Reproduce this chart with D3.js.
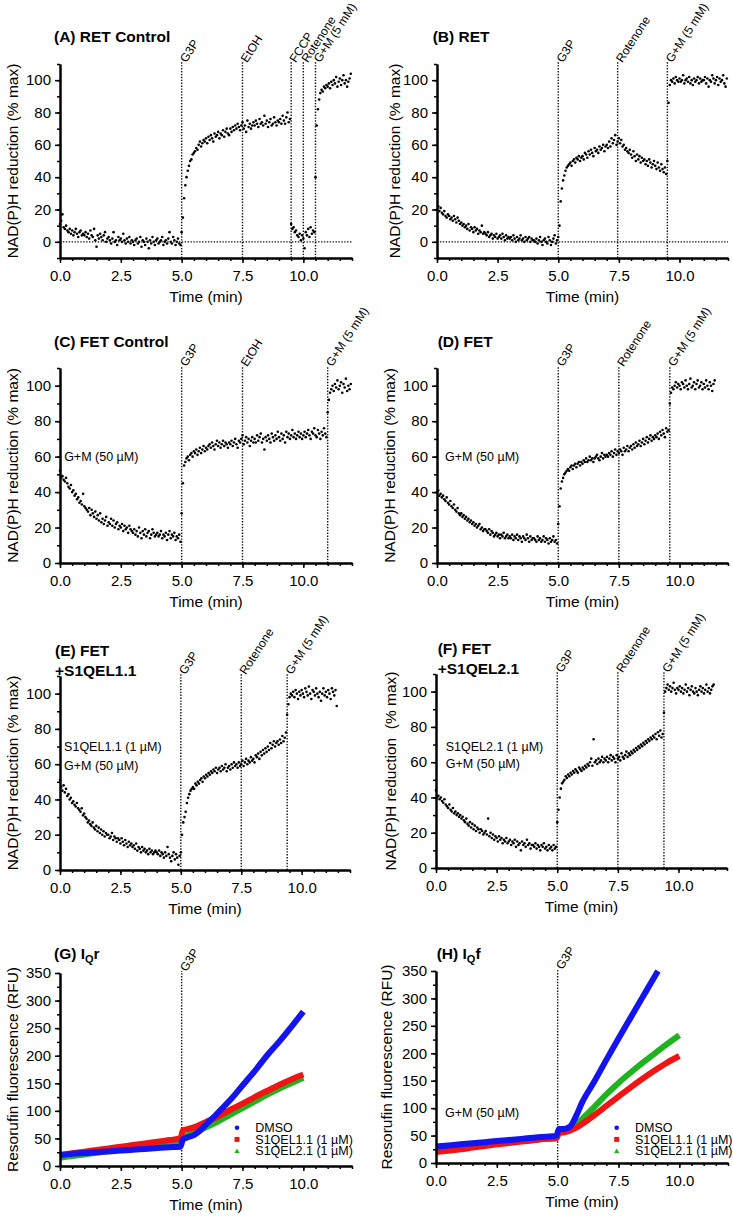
<!DOCTYPE html>
<html><head><meta charset="utf-8">
<script src="https://cdn.jsdelivr.net/npm/d3@7"></script>
<style>
body{margin:0;background:#fff}
svg{display:block}
text{font-family:"Liberation Sans",Arial,Helvetica,sans-serif;fill:#000}
</style>
</head><body>
<svg id="c" width="733" height="1221"></svg>
<script>
// ---------- DATA ----------
const STEP = 0.05; // sampling interval of NAD(P)H traces (min), first point at t = 0
const xMajorTicks = [0, 2.5, 5, 7.5, 10];

// (A) RET Control, NAD(P)H % max
const retControl = [
 11,13,17,9,8,10,7,6,8,5,7,4,6,8,5,3,6,7,4,5,
 4,6,3,5,2,7,4,3,8,1,-3,4,2,5,3,1,4,6,0,2,
 3,1,-1,2,6,0,1,-2,3,1,2,0,5,1,-1,2,0,3,-1,1,
 0,-2,1,2,-1,0,3,-3,1,0,-2,2,0,-4,1,-1,3,0,-2,1,
 2,-1,0,1,3,-2,0,1,-1,2,6,0,-1,3,1,-2,0,2,-1,-2,
 6,15,27,35,40,44,47,50,51,54,55,56,58,57,60,62,59,61,63,62,
 64,61,65,63,66,64,62,67,65,66,68,64,67,66,69,65,68,70,67,66,
 70,68,71,69,72,70,73,71,69,72,74,70,72,68,75,71,73,70,72,74,
 72,75,73,71,76,73,74,72,78,73,75,71,74,76,72,73,77,74,72,75,
 74,76,73,78,75,73,77,80,74,76,
 11,8,9,6,7,4,3,5,1,4,
 2,-4,6,4,8,3,9,5,7,6,
 40,72,82,88,92,94,93,96,95,97,
 96,98,95,99,97,100,98,102,96,99,101,97,100,103,98,100,96,99,101,104
];
// (B) RET
const ret = [
 20,22,19,21,18,17,19,16,15,17,16,14,15,13,16,14,12,15,13,11,
 12,10,11,9,10,8,11,7,9,8,6,9,7,8,5,7,6,10,5,6,
 5,4,6,3,4,5,2,4,3,5,2,3,4,2,5,3,1,4,2,3,
 2,3,1,4,2,0,3,1,2,4,1,2,0,3,1,2,3,0,2,1,
 1,0,2,-1,1,3,0,-2,1,2,0,-1,3,1,-2,0,2,4,-1,1,
 3,10,25,33,38,41,44,46,47,48,49,47,50,51,49,52,51,53,50,52,
 53,51,55,54,52,56,54,57,55,53,58,56,57,55,59,57,58,60,56,59,
 60,58,62,59,64,61,63,66,60,62,
 64,61,63,59,60,57,58,56,55,57,
 54,52,56,53,50,54,51,53,49,52,50,51,48,50,47,51,49,46,48,50,
 47,45,49,46,44,48,45,43,46,42,
 50,86,97,100,99,101,98,102,100,99,
 101,99,100,103,98,100,101,99,102,98,100,97,101,99,100,102,98,101,99,100,
 100,102,98,101,96,100,99,103,101,98,100,102,97,101,99,100,103,98,96,101
];
// (C) FET Control
const fetControl = [
 52,48,49,47,46,48,45,43,42,44,40,41,38,39,36,37,34,35,33,39,
 32,31,30,29,31,27,30,28,26,29,25,27,24,28,23,25,22,24,26,21,
 23,22,25,21,24,20,22,23,19,21,20,22,18,21,19,20,17,21,19,18,
 17,19,16,18,15,20,17,14,18,16,19,15,17,18,14,16,19,17,15,16,
 17,15,16,18,14,16,15,17,13,16,18,14,16,15,17,13,15,14,16,12,
 28,45,55,57,59,60,58,61,62,60,63,62,64,61,63,65,62,64,66,63,
 65,64,66,67,65,68,66,64,67,69,66,68,65,67,69,66,68,67,65,68,
 67,69,66,68,70,67,65,69,68,70,72,67,69,71,68,70,66,69,71,68,
 70,68,72,69,71,73,68,70,64,71,69,72,70,68,73,71,69,72,70,74,
 71,69,73,70,72,68,74,71,73,70,72,75,71,73,70,72,74,71,73,70,
 72,74,71,73,75,72,70,74,73,76,72,71,75,73,70,74,72,76,73,71,
 85,92,96,98,100,97,101,99,103,98,100,102,96,101,99,104,97,100,98,101
];
// (D) FET
const fet = [
 40,41,38,39,37,38,36,35,37,34,33,35,32,31,33,30,29,31,28,27,
 28,26,27,25,26,24,25,23,24,22,23,21,22,20,21,22,19,20,18,19,
 19,18,17,19,16,18,17,15,16,17,15,16,14,16,15,17,14,15,16,14,
 15,14,16,13,15,14,16,13,15,14,12,15,14,13,16,14,12,15,13,14,
 14,13,12,15,13,14,12,13,15,12,14,13,11,14,12,13,15,12,13,11,
 22,32,42,46,48,50,51,52,53,52,54,55,53,55,56,54,56,57,55,57,
 56,58,57,59,57,58,60,58,59,57,59,60,61,59,58,60,62,59,61,60,
 61,60,62,61,63,60,62,64,61,63,62,64,63,61,65,63,64,66,63,65,
 66,64,67,65,68,66,67,69,66,68,70,67,69,71,68,70,72,69,71,70,
 72,71,73,70,74,72,75,73,71,76,74,75,
 90,96,99,98,100,102,99,101,
 100,98,102,101,99,103,100,98,101,104,99,100,102,98,101,103,99,100,102,98,
 101,99,103,100,98,102,100,97,101,103
];
// (E) FET + S1QEL1.1
const fetS1qel11 = [
 51,47,45,48,44,46,42,43,40,41,38,39,37,36,38,35,34,33,35,31,
 32,30,29,27,28,26,25,27,24,23,25,22,24,21,23,20,22,19,21,20,
 20,18,19,21,17,19,18,16,18,17,15,18,16,14,17,15,13,16,14,15,
 13,14,12,15,11,13,12,10,13,11,12,10,11,9,12,10,11,9,10,11,
 10,9,11,8,10,9,7,10,8,13,9,7,5,8,10,6,9,7,3,8,
 10,20,27,30,33,38,41,43,45,46,47,46,49,48,50,49,51,52,50,53,
 52,54,53,55,54,56,55,57,56,58,55,57,58,56,59,57,58,60,56,58,
 59,57,60,58,61,59,60,58,61,59,60,62,59,61,63,60,62,61,64,62,
 63,61,65,64,66,63,67,65,68,66,69,67,70,68,72,69,71,73,70,72,
 73,71,74,72,76,73,75,78,
 88,94,98,100,99,101,98,102,100,97,101,99,
 102,100,98,103,101,99,104,100,97,102,101,99,103,100,98,101,96,100,103,99,
 101,98,102,100,97,103,101,99,102,93
];
// (F) FET + S1QEL2.1
const fetS1qel21 = [
 44,40,41,39,40,38,37,39,36,35,34,36,33,32,34,31,32,30,31,29,
 30,28,29,27,26,28,25,24,26,23,25,22,24,21,23,22,20,22,21,19,
 20,21,19,28,18,20,17,19,16,18,17,15,18,16,17,14,16,15,17,14,
 15,16,13,15,14,16,12,15,13,14,10,15,13,14,12,16,13,14,11,13,
 13,12,14,11,13,12,10,13,12,14,11,12,10,13,11,12,10,13,11,12,
 26,33,40,45,48,49,50,52,51,53,52,54,53,55,54,56,55,54,57,56,
 55,57,56,58,57,59,58,60,62,58,73,60,61,59,62,60,61,63,60,62,
 61,63,60,62,64,61,63,62,60,64,62,63,61,65,63,62,64,66,63,65,
 64,66,65,67,66,68,67,69,68,70,69,71,70,72,71,73,72,74,73,75,
 74,76,73,77,75,78,74,76,
 88,100,102,104,101,103,100,102,105,101,99,102,
 101,103,100,102,99,101,104,100,102,98,101,103,100,99,102,100,98,101,103,100,
 102,99,101,104,100,102,99,101,103,104
];

// (G) IQr resorufin traces (RFU)
const gTimes     = [0,0.5,1,1.5,2,2.5,3,3.5,4,4.5,4.95,5.05,5.25,5.5,5.75,6,6.5,7,7.5,8,8.5,9,9.5,10];
const gDmso      = [20,22,23.5,25,26.5,28,29.5,31,32.5,34,35,48,52,56,64,75,97,120,146,172,200,225,252,280];
const gS1qel11   = [20,23,26,29,32,35,38,41,44,47,50,65,67,70,75,80,90,102,113,125,136,147,157,166];
const gS1qel21   = [15,18,21,24,27,30,32.5,35,37.5,40,42,53,56,60,65,70,81,93,105,117,129,140,150,160];
// (H) IQf resorufin traces (RFU)
const hTimesDmso = [0,0.5,1,1.5,2,2.5,3,3.5,4,4.5,4.95,5.05,5.25,5.5,5.75,6,6.5,7,7.5,8,8.5,9,9.12];
const hDmso      = [30,32,34,36,38,40,42,44,46,48,50,62,62,66,85,110,148,188,227,265,303,341,350];
const hTimes     = [0,0.5,1,1.5,2,2.5,3,3.5,4,4.5,4.95,5.05,5.25,5.5,5.75,6,6.5,7,7.5,8,8.5,9,9.5,10];
const hS1qel11   = [20,22.5,25,28,31,34,36.5,39,41.5,44,45,54,56,59,64,71,87,104,121,138,154,169,183,195];
const hS1qel21   = [25,27.5,30,32,34,36,38,40,42,44,46,57,58,63,70,80,102,125,146,165,183,200,217,233];

const seriesNames = ["DMSO", "S1QEL1.1 (1 \u00b5M)", "S1QEL2.1 (1 \u00b5M)"];

// ---------- LAYOUT / CONFIG ----------
const NADLABEL = "NAD(P)H reduction (% max)";
const RFULABEL = "Resorufin fluorescence (RFU)";
const panels = [
 {title:["(A) RET Control"], tx:54, ty:41.5, x0:60, x1:352, yTop:64, yBot:258, yDom:[-10,110], yMajor:[0,20,40,60,80,100], yMinorStep:10,
  ylab:NADLABEL, labX:13, pts:retControl, zero:true,
  events:[[5,"G3P"],[7.5,"EtOH"],[9.5,"FCCP"],[10,"Rotenone"],[10.5,"G+M (5 mM)"]], notes:[]},
 {title:["(B) RET"], tx:432.7, ty:41.5, x0:437, x1:728, yTop:64, yBot:258, yDom:[-10,110], yMajor:[0,20,40,60,80,100], yMinorStep:10,
  ylab:NADLABEL, labX:395, pts:ret, zero:true,
  events:[[5,"G3P"],[7.45,"Rotenone"],[9.5,"G+M (5 mM)"]], notes:[]},
 {title:["(C) FET Control"], tx:54, ty:347, x0:60, x1:352, yTop:368, yBot:563, yDom:[0,110], yMajor:[0,20,40,60,80,100], yMinorStep:10,
  ylab:NADLABEL, labX:13, pts:fetControl,
  events:[[5,"G3P"],[7.5,"EtOH"],[11,"G+M (5 mM)"]], notes:[["G+M (50 \u00b5M)",0.17,60]]},
 {title:["(D) FET"], tx:437.7, ty:347, x0:437, x1:728, yTop:368, yBot:563, yDom:[0,110], yMajor:[0,20,40,60,80,100], yMinorStep:10,
  ylab:NADLABEL, labX:390, pts:fet,
  events:[[5,"G3P"],[7.5,"Rotenone"],[9.6,"G+M (5 mM)"]], notes:[["G+M (50 \u00b5M)",0.33,60]]},
 {title:["(E) FET","+S1QEL1.1"], tx:55, ty:655.5, x0:60, x1:350, yTop:676, yBot:870, yDom:[0,110], yMajor:[0,20,40,60,80,100], yMinorStep:10,
  ylab:NADLABEL, labX:13, pts:fetS1qel11,
  events:[[5,"G3P"],[7.5,"Rotenone"],[9.4,"G+M (5 mM)"]], notes:[["S1QEL1.1 (1 \u00b5M)",0.17,70],["G+M (50 \u00b5M)",0.17,59]]},
 {title:["(F) FET","+S1QEL2.1"], tx:437.7, ty:653.5, x0:436, x1:727, yTop:674, yBot:868, yDom:[0,110], yMajor:[0,20,40,60,80,100], yMinorStep:10,
  ylab:"NAD(P)H reduction\u00a0 (% max)", labX:391, pts:fetS1qel21,
  events:[[5,"G3P"],[7.5,"Rotenone"],[9.4,"G+M (5 mM)"]], notes:[["S1QEL2.1 (1 \u00b5M)",0.4,69],["G+M (50 \u00b5M)",0.4,59]]},
 {title:["(G) I","Q","r"], sub:true, tx:54, ty:958.5, x0:60, x1:352, yTop:973, yBot:1166, yDom:[0,350], yMajor:[0,50,100,150,200,250,300,350], yMinorStep:25,
  ylab:RFULABEL, labX:13, lines:[[gTimes,gS1qel21,"#1fb41f"],[gTimes,gS1qel11,"#f01414"],[gTimes,gDmso,"#1414f0"]],
  events:[[5,"G3P"]], notes:[], legendX:237},
 {title:["(H) I","Q","f"], sub:true, tx:436.7, ty:958.5, x0:436, x1:728, yTop:971, yBot:1163, yDom:[0,350], yMajor:[0,50,100,150,200,250,300,350], yMinorStep:25,
  ylab:RFULABEL, labX:387, lines:[[hTimes,hS1qel21,"#1fb41f"],[hTimes,hS1qel11,"#f01414"],[hTimesDmso,hDmso,"#1414f0"]],
  events:[[5,"G3P"]], notes:[["G+M (50 \u00b5M)",0.37,91]], legendX:616.7}
];
const legendColors = ["#1414f0","#f01414","#1fb41f"];

// ---------- DRAW ----------
const svg = d3.select("#c");

function drawPanel(p){
  const g = svg.append("g");
  const x = d3.scaleLinear().domain([0,12]).range([p.x0, p.x1]);
  const y = d3.scaleLinear().domain(p.yDom).range([p.yBot, p.yTop]);

  // zero line
  if (p.zero){
    g.append("line").attr("x1",p.x0).attr("x2",p.x1).attr("y1",y(0)).attr("y2",y(0))
      .attr("stroke","#111").attr("stroke-width",1.4).attr("stroke-dasharray","1.4,1.5");
  }
  // event lines + labels
  p.events.forEach(([t,lab])=>{
    g.append("line").attr("x1",x(t)).attr("x2",x(t)).attr("y1",p.yBot).attr("y2",p.yTop-2)
      .attr("stroke","#111").attr("stroke-width",1.4).attr("stroke-dasharray","1.4,1.5");
    g.append("text").attr("transform",`translate(${x(t)+1},${p.yTop-3}) rotate(-57)`)
      .attr("dy","0.35em").attr("font-size",12).text(lab);
  });
  // scatter points
  if (p.pts){
    g.append("g").selectAll("circle").data(p.pts).join("circle")
      .attr("cx",(d,i)=>x(i*STEP)).attr("cy",d=>y(d)).attr("r",1.3).attr("fill","#000");
  }
  // thick marker traces
  if (p.lines){
    const line = d3.line().x(d=>x(d[0])).y(d=>y(d[1])).curve(d3.curveMonotoneX);
    p.lines.forEach(([ts,vs,col])=>{
      g.append("path").attr("d", line(ts.map((t,i)=>[t,vs[i]])))
        .attr("fill","none").attr("stroke",col).attr("stroke-width",6);
    });
    // legend
    const lx = p.legendX;
    seriesNames.forEach((nm,i)=>{
      const ly = 1127.7 + i*11.7;
      const col = legendColors[i];
      if (i===0) g.append("circle").attr("cx",lx).attr("cy",ly).attr("r",2.3).attr("fill",col);
      else if (i===1) g.append("rect").attr("x",lx-2.5).attr("y",ly-2.5).attr("width",5).attr("height",5).attr("fill",col);
      else g.append("path").attr("d",`M${lx},${ly-2.5}L${lx+2.6},${ly+2}L${lx-2.6},${ly+2}Z`).attr("fill",col);
      g.append("text").attr("x",lx+18.3).attr("y",ly).attr("dy","0.35em").attr("font-size",12.5).text(nm);
    });
  }
  // notes
  p.notes.forEach(([txt,t,v])=>{
    g.append("text").attr("x",x(t)).attr("y",y(v)).attr("dy","0.35em").attr("font-size",12.5).text(txt);
  });

  // axes
  const yMinor = d3.range(p.yDom[0], p.yDom[1]+0.001, p.yMinorStep);
  const xMinor = d3.range(0, 12.001, 0.5);
  const axG = g.append("g");
  axG.append("g").attr("transform",`translate(0,${p.yBot})`)
    .call(d3.axisBottom(x).tickValues(xMinor).tickSize(3).tickSizeOuter(0).tickFormat(""));
  axG.append("g").attr("transform",`translate(0,${p.yBot})`)
    .call(d3.axisBottom(x).tickValues(xMajorTicks).tickSize(5).tickSizeOuter(0).tickPadding(7).tickFormat(d3.format(".1f")));
  axG.append("g").attr("transform",`translate(${p.x0},0)`)
    .call(d3.axisLeft(y).tickValues(yMinor).tickSize(3).tickSizeOuter(0).tickFormat(""));
  axG.append("g").attr("transform",`translate(${p.x0},0)`)
    .call(d3.axisLeft(y).tickValues(p.yMajor).tickSize(5).tickSizeOuter(0).tickPadding(4).tickFormat(d3.format("d")));
  axG.selectAll(".domain").attr("stroke","#000").attr("stroke-width",2);
  axG.selectAll(".tick line").attr("stroke","#000").attr("stroke-width",1.5);
  axG.selectAll(".tick text").attr("font-size",15).attr("font-family","Liberation Sans, Arial, sans-serif").attr("fill","#000");

  // axis titles
  g.append("text").attr("x",(p.x0+p.x1)/2).attr("y",p.yBot+44).attr("text-anchor","middle").attr("font-size",15.5).text("Time (min)");
  g.append("text").attr("transform",`translate(${p.labX},${(p.yTop+p.yBot)/2}) rotate(-90)`)
    .attr("text-anchor","middle").attr("dy","0.35em").attr("font-size",15.5).text(p.ylab);

  // panel title
  if (p.sub){
    const t = g.append("text").attr("x",p.tx).attr("y",p.ty).attr("font-size",15.5).attr("font-weight","bold");
    t.append("tspan").text(p.title[0]);
    t.append("tspan").attr("dy",4).attr("font-size",11).text(p.title[1]);
    t.append("tspan").attr("dy",-4).text(p.title[2]);
  } else {
    p.title.forEach((ln,i)=>{
      g.append("text").attr("x",p.tx).attr("y",p.ty+i*20).attr("font-size",15.5).attr("font-weight","bold").text(ln);
    });
  }
}
panels.forEach(drawPanel);
</script>
</body></html>
